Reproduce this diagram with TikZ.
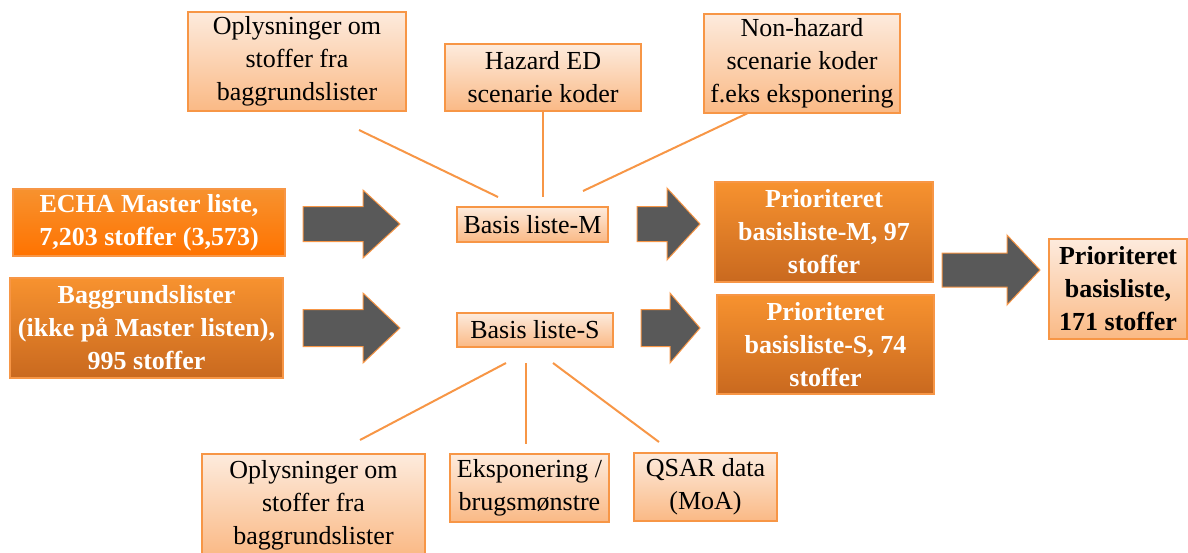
\documentclass[tikz,border=0pt]{standalone}
\usepackage{fontspec}
\setmainfont{Liberation Serif}
\usetikzlibrary{calc}

\definecolor{frame}{HTML}{F79646}
\definecolor{darktop}{HTML}{F7922F}
\definecolor{darkbot}{HTML}{C9691F}
\definecolor{lighttop}{HTML}{FDEBDD}
\definecolor{lightbot}{HTML}{FAB985}
\definecolor{arrowgrey}{HTML}{595959}

\tikzset{
	darkbox/.style={draw=frame, line width=1.5pt, top color=darktop, bottom color=darkbot,
		text=white, font=\bfseries\fontsize{26}{33}\selectfont, align=center, inner sep=0pt},
	lightbox/.style={draw=frame, line width=1.5pt, top color=lighttop, bottom color=lightbot,
		text=black, font=\fontsize{26}{33}\selectfont, align=center, inner sep=0pt},
	feed/.style={draw=frame, line width=2pt},
}

% block arrow: x start, x head, x tip, y centre, shaft half, head half
\newcommand{\blockarrow}[6]{%
	\draw[frame, line width=1pt, fill=arrowgrey]
		(#1,{#4-#5}) -- (#2,{#4-#5}) -- (#2,{#4-#6}) -- (#3,#4)
		-- (#2,{#4+#6}) -- (#2,{#4+#5}) -- (#1,{#4+#5}) -- cycle;}

\begin{document}
\begin{tikzpicture}[x=1pt, y=-1pt]
	\useasboundingbox (0,0) rectangle (1188,552);

	% Left input lists
	\node[darkbox, bottom color=orange!90!red, minimum width=272, minimum height=67] (echa) at (149,222.5)
		{ECHA Master liste,\\7,203 stoffer (3,573)};
	\node[darkbox, minimum width=273, minimum height=100] (bagliste) at (146.5,328)
		{Baggrundslister\\(ikke på Master listen),\\995 stoffer};

	% Basis lists
	\node[lightbox, minimum width=151, minimum height=35] (basisM) at (532.5,224.5) {Basis liste-M};
	\node[lightbox, minimum width=156, minimum height=34] (basisS) at (535,330) {Basis liste-S};

	% Prioritised lists
	\node[darkbox, minimum width=218, minimum height=100] (prioM) at (824,232)
		{Prioriteret\\basisliste-M, 97\\stoffer};
	\node[darkbox, minimum width=217, minimum height=99] (prioS) at (825.5,344.5)
		{Prioriteret\\basisliste-S, 74\\stoffer};
	\node[lightbox, font=\bfseries\fontsize{26}{33}\selectfont, minimum width=138, minimum height=100] (samlet) at (1118,289)
		{Prioriteret\\basisliste,\\171 stoffer};

	% Top information boxes
	\node[lightbox, minimum width=218, minimum height=99] (topOpl) at (297,61.5)
		{Oplysninger om\\stoffer fra\\baggrundslister};
	\node[lightbox, minimum width=196, minimum height=67] (topHaz) at (543,77.5)
		{Hazard ED\\scenarie koder};
	\node[lightbox, minimum width=196, minimum height=99] (topNon) at (802,63.5)
		{Non-hazard\\scenarie koder\\f.eks eksponering};

	% Bottom information boxes
	\node[lightbox, minimum width=223, minimum height=102] (botOpl) at (313.5,505)
		{Oplysninger om\\stoffer fra\\baggrundslister};
	\node[lightbox, minimum width=159, minimum height=68] (botEks) at (529.5,488)
		{Eksponering /\\brugsmønstre};
	\node[lightbox, minimum width=143, minimum height=68] (botQsar) at (705.5,487)
		{QSAR data\\(MoA)};

	% Feed lines into basis lists
	\coordinate (tA1) at (359,130);  \coordinate (tA2) at (498,197);
	\coordinate (tB2) at (543,197);
	\coordinate (tC1) at (748,113);  \coordinate (tC2) at (583,191);
	\coordinate (bA1) at (360,440);  \coordinate (bA2) at (506,363);
	\coordinate (bB1) at (526,363);  \coordinate (bB2) at (526,444);
	\coordinate (bC1) at (553,363);  \coordinate (bC2) at (659,442);
	\draw[feed] (tA1) -- (tA2);
	\draw[feed] (topHaz.south) -- (tB2);
	\draw[feed] (tC1) -- (tC2);
	\draw[feed] (bA1) -- (bA2);
	\draw[feed] (bB1) -- (bB2);
	\draw[feed] (bC1) -- (bC2);

	% Block arrows
	\blockarrow{303}{363}{400}{224}{17.5}{34}
	\blockarrow{303}{363}{400}{328}{18.5}{35}
	\blockarrow{637}{667}{700}{224}{17.5}{36}
	\blockarrow{641}{670}{700}{328}{18.5}{35}
	\blockarrow{942}{1007}{1040}{270}{17}{35}
\end{tikzpicture}
\end{document}
